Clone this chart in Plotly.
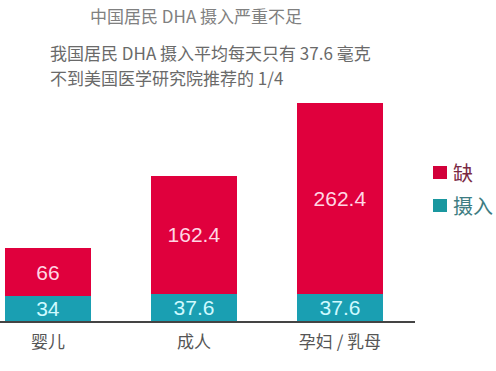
import plotly.graph_objects as go

categories = ["婴儿", "成人", "孕妇 / 乳母"]
intake = [34, 37.6, 37.6]
deficit = [66, 162.4, 262.4]
intake_labels = ["34", "37.6", "37.6"]
deficit_labels = ["66", "162.4", "262.4"]
series_names = ["缺", "摄入"]
title1 = "中国居民 DHA 摄入严重不足"
title2 = "我国居民 DHA 摄入平均每天只有 37.6 毫克"
title3 = "不到美国医学研究院推荐的 1/4"

FONT = "Noto Sans CJK SC"
NUMFONT = "Liberation Sans"
RED = "#e0003d"
TEAL = "#1a9fb2"
W = 496.0
PT, PB = 90.0, 321.0  # plot area top/bottom in px


def py(p):
    return (PB - p) / (PB - PT)


def px(p):
    return p / W


fig = go.Figure()
fig.add_trace(go.Bar(
    x=categories, y=intake, name=series_names[1], text=intake_labels,
    marker=dict(color=TEAL, line=dict(width=0)), width=0.59,
    textposition="inside", insidetextanchor="middle", constraintext="none",
    textangle=0,
    textfont=dict(size=21, color="#cffaff", family=NUMFONT),
    hoverinfo="skip", showlegend=False,
))
fig.add_trace(go.Bar(
    x=categories, y=deficit, name=series_names[0], text=deficit_labels,
    marker=dict(color=RED, line=dict(width=0)), width=0.59,
    textposition="inside", insidetextanchor="middle", constraintext="none",
    textangle=0,
    textfont=dict(size=21, color="#ffd6e4", family=NUMFONT),
    hoverinfo="skip", showlegend=False,
))

# manual legend
legend_items = [(series_names[0], "#d2003a", "#7a2a44", 166),
                (series_names[1], "#1a979f", "#3d7c82", 199)]
shapes = []
annotations = []
for name, col, tcol, top in legend_items:
    shapes.append(dict(type="rect", xref="paper", yref="paper",
                       x0=px(433), x1=px(447), y0=py(top + 13), y1=py(top),
                       fillcolor=col, line=dict(width=0)))
    annotations.append(dict(text=name, x=px(451), y=py(top + 6.5), xref="paper", yref="paper",
                            xanchor="left", yanchor="middle", showarrow=False,
                            font=dict(size=20, color=tcol, family=FONT)))

annotations += [
    dict(text=title1, x=px(88), y=py(16), xref="paper", yref="paper",
         xanchor="left", yanchor="middle", showarrow=False,
         font=dict(size=17, color="#808080", family=FONT)),
    dict(text=title2, x=px(48), y=py(53), xref="paper", yref="paper",
         xanchor="left", yanchor="middle", showarrow=False,
         font=dict(size=17, color="#6a6a6a", family=FONT)),
    dict(text=title3, x=px(48), y=py(77), xref="paper", yref="paper",
         xanchor="left", yanchor="middle", showarrow=False,
         font=dict(size=17, color="#6a6a6a", family=FONT)),
]

fig.update_layout(
    barmode="stack",
    width=496, height=371,
    margin=dict(l=0, r=0, t=PT, b=371 - PB),
    paper_bgcolor="white", plot_bgcolor="white",
    font=dict(family=FONT, color="#555555"),
    showlegend=False,
    xaxis=dict(
        domain=[0, 415 / W],
        range=[-0.329, 2.514], showline=True, linecolor="#444444", linewidth=2,
        ticks="outside", ticklen=5, tickcolor="rgba(0,0,0,0)",
        tickfont=dict(size=17, color="#555555", family=FONT),
        showgrid=False, zeroline=False, fixedrange=True,
    ),
    yaxis=dict(
        range=[0, 300 * (PB - PT) / (PB - 103)], visible=False,
        showgrid=False, zeroline=False, fixedrange=True,
    ),
    shapes=shapes,
    annotations=annotations,
)

fig.write_html("out.html")
